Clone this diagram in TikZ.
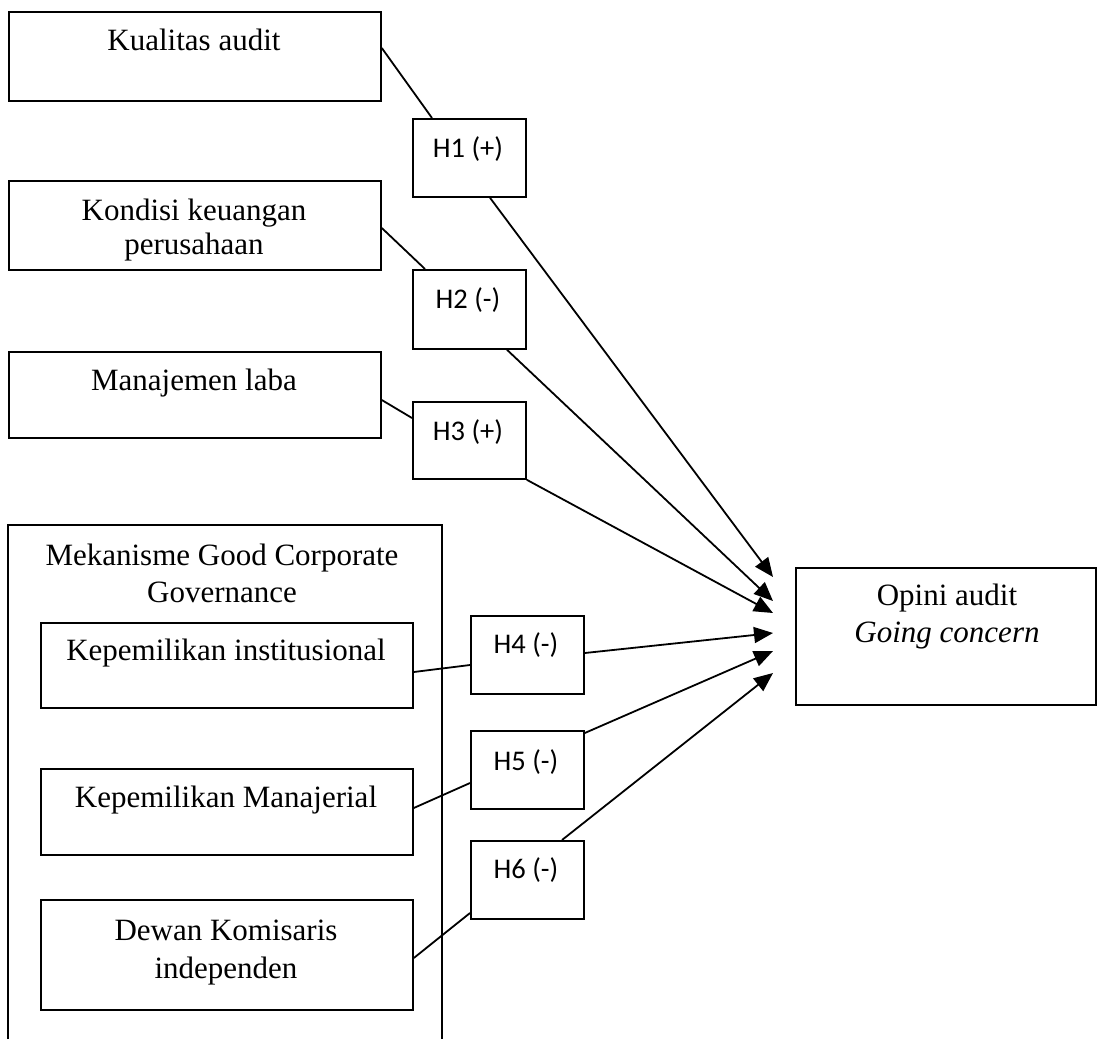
\documentclass[tikz,border=0pt]{standalone}
\usepackage{fontspec}
\setmainfont{Liberation Serif}
\newfontfamily\hfont{Carlito}
\usetikzlibrary{calc,arrows.meta}
\begin{document}
\begin{tikzpicture}[x=1pt,y=-1pt,
  box/.style={draw, line width=1.8pt, fill=white, rectangle, inner sep=0pt, anchor=north west},
  txt/.style={anchor=base, inner sep=0pt, font=\fontsize{31}{37}\selectfont},
  itxt/.style={anchor=base, inner sep=0pt, font=\fontsize{31}{37}\selectfont\itshape},
  htxt/.style={anchor=base, inner sep=0pt, font=\hfont\fontsize{28.5}{34}\selectfont},
  conn/.style={line width=1.8pt},
  arr/.style={line width=1.8pt, -{Triangle[length=19pt,width=16pt]}}]
\useasboundingbox (0,0) rectangle (1097,1039);

% outer GCG frame (open at the bottom)
\draw[conn] (8,1039) -- (8,525) -- (442,525) -- (442,1039);

% variable boxes
\node[box, minimum width=372pt, minimum height=89pt] (ka) at (8,11) {};
\node[box, minimum width=372pt, minimum height=89pt] (kk) at (8,180) {};
\node[box, minimum width=372pt, minimum height=86pt] (ml) at (8,351) {};
\node[box, minimum width=372pt, minimum height=85pt] (ki) at (40,622) {};
\node[box, minimum width=372pt, minimum height=86pt] (km) at (40,768) {};
\node[box, minimum width=372pt, minimum height=110pt] (dk) at (40,899) {};
\node[box, minimum width=300pt, minimum height=137pt] (op) at (795,567) {};

% hypothesis boxes
\node[box, minimum width=113pt, minimum height=78pt] (h1) at (412,118) {};
\node[box, minimum width=113pt, minimum height=79pt] (h2) at (412,269) {};
\node[box, minimum width=113pt, minimum height=77pt] (h3) at (412,401) {};
\node[box, minimum width=113pt, minimum height=78pt] (h4) at (470,615) {};
\node[box, minimum width=113pt, minimum height=78pt] (h5) at (470,730) {};
\node[box, minimum width=113pt, minimum height=78pt] (h6) at (470,840) {};

% texts
\node[txt] (kat) at (194,50) {Kualitas audit};
\node[txt] (kkt1) at (194,220) {Kondisi keuangan};
\node[txt] (kkt2) at (194,254) {perusahaan};
\node[txt] (mlt) at (194,390) {Manajemen laba};
\node[txt] (gt1) at (222,565) {Mekanisme Good Corporate};
\node[txt] (gt2) at (222,602) {Governance};
\node[txt] (kit) at (226,660) {Kepemilikan institusional};
\node[txt] (kmt) at (226,807) {Kepemilikan Manajerial};
\node[txt] (dkt1) at (226,940) {Dewan Komisaris};
\node[txt] (dkt2) at (226,978) {independen};
\node[txt] (opt1) at (947,605) {Opini audit};
\node[itxt] (opt2) at (947,642) {Going concern};

\node[htxt] (h1t) at (468,157) {H1 (+)};
\node[htxt] (h2t) at (468,308) {H2 (-)};
\node[htxt] (h3t) at (468,440) {H3 (+)};
\node[htxt] (h4t) at (526,653) {H4 (-)};
\node[htxt] (h5t) at (526,770) {H5 (-)};
\node[htxt] (h6t) at (526,878) {H6 (-)};

% arrow targets in front of Opini audit
\coordinate (t1) at (773,577);
\coordinate (t2) at (773,601);
\coordinate (t3) at (773,613);
\coordinate (t4) at (773,633);
\coordinate (t5) at (773,651);
\coordinate (t6) at (773,673);

% connectors: source -> hypothesis box
\draw[conn] ($(ka.north east)+(0,37)$) -- ($(h1.north west)+(20,0)$);
\draw[conn] ($(kk.north east)+(0,48)$) -- ($(h2.north west)+(13,0)$);
\draw[conn] ($(ml.north east)+(0,49)$) -- ($(h3.north west)+(0,17)$);
\draw[conn] ($(ki.north east)+(0,50)$) -- ($(h4.north west)+(0,50)$);
\draw[conn] ($(km.north east)+(0,40)$) -- ($(h5.north west)+(0,53)$);
\draw[conn] ($(dk.north east)+(0,59)$) -- ($(h6.north west)+(0,73)$);

% connectors: hypothesis box -> Opini audit
\draw[arr] ($(h1.south west)+(78,0)$) -- (t1);
\draw[arr] ($(h2.south west)+(95,0)$) -- (t2);
\draw[arr] (h3.south east) -- (t3);
\draw[arr] ($(h4.north east)+(0,38)$) -- (t4);
\draw[arr] ($(h5.north east)+(0,3)$) -- (t5);
\draw[arr] ($(h6.north west)+(92,0)$) -- (t6);
\end{tikzpicture}
\end{document}
